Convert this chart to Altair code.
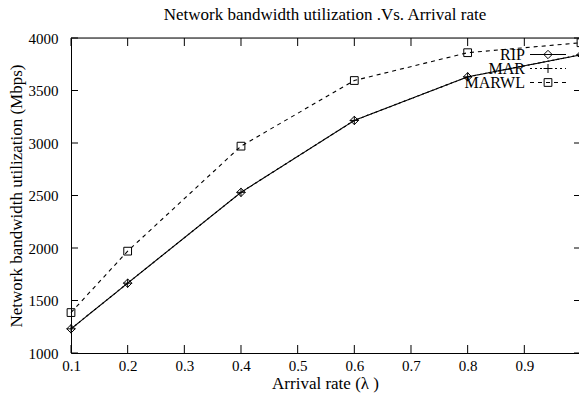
import altair as alt
import pandas as pd

# Arrival rate (lambda) and bandwidth utilization (Mbps) per scheme
arrival_rate = [0.1, 0.2, 0.4, 0.6, 0.8, 1.0]
rip = [1230, 1665, 2530, 3215, 3630, 3840]
mar = [1230, 1665, 2530, 3215, 3630, 3840]
marwl = [1385, 1970, 2970, 3595, 3860, 3955]
series_names = ["RIP", "MAR", "MARWL"]

x_ticks = [0.1, 0.2, 0.3, 0.4, 0.5, 0.6, 0.7, 0.8, 0.9, 1.0]
y_ticks = [1000, 1500, 2000, 2500, 3000, 3500, 4000]

FONT = "Liberation Serif"
W, H = 508, 315

rows = []
for name, vals in zip(series_names, [rip, mar, marwl]):
    for r, v in zip(arrival_rate, vals):
        rows.append({"series": name, "rate": r, "bw": v})
df = pd.DataFrame(rows)

xs = alt.Scale(domain=[0.1, 0.9965], nice=False, zero=False)
ys = alt.Scale(domain=[1000, 4000], nice=False, zero=False)

styles = {
    "RIP": {"dash": [1, 0], "shape": "diamond", "size": 70},
    "MAR": {"dash": [2, 3], "shape": "M-1,0L1,0M0,-1L0,1", "size": 80},
    "MARWL": {"dash": [4, 4], "shape": "square", "size": 60},
}

x_axis = alt.Axis(
    values=x_ticks, format=".1f", ticks=False, grid=False, labelFlush=False,
    labelPadding=5, title="Arrival rate  (λ )", titlePadding=2,
)
y_axis = alt.Axis(
    values=y_ticks, format="d", ticks=False, grid=False, labelFlush=False,
    labelPadding=13, title="Network bandwidth utilization (Mbps)", titlePadding=3,
)


def enc_x(field):
    return alt.X(field, scale=xs, axis=x_axis)


def enc_y(field):
    return alt.Y(field, scale=ys, axis=y_axis)


layers = []
for name in series_names:
    st = styles[name]
    base = alt.Chart(df).transform_filter(alt.datum.series == name)
    layers.append(base.mark_line(color="black", strokeWidth=1.1, strokeDash=st["dash"],
                                 clip=False).encode(x=enc_x("rate:Q"), y=enc_y("bw:Q")))

for name in series_names:
    st = styles[name]
    base = alt.Chart(df).transform_filter(alt.datum.series == name)
    layers.append(base.mark_point(
        shape=st["shape"], size=st["size"], color="black", filled=False,
        strokeWidth=1, opacity=1, clip=False,
    ).encode(x=enc_x("rate:Q"), y=enc_y("bw:Q")))

# inward tick marks on all four sides
xt = alt.Chart(pd.DataFrame({"t": x_ticks}))
yt = alt.Chart(pd.DataFrame({"t": y_ticks}))
layers.append(xt.mark_rule(color="black", strokeWidth=1).encode(
    x=enc_x("t:Q"), y=alt.value(H - 8), y2=alt.value(H)))
layers.append(xt.mark_rule(color="black", strokeWidth=1).encode(
    x=enc_x("t:Q"), y=alt.value(0), y2=alt.value(8)))
layers.append(yt.mark_rule(color="black", strokeWidth=1).encode(
    y=enc_y("t:Q"), x=alt.value(0), x2=alt.value(7)))
layers.append(yt.mark_rule(color="black", strokeWidth=1).encode(
    y=enc_y("t:Q"), x=alt.value(W - 5), x2=alt.value(W)))

one = alt.Chart(pd.DataFrame({"a": [0]}))
# top border
layers.append(one.mark_rule(color="black", strokeWidth=1).encode(
    x=alt.value(0), x2=alt.value(W + 5), y=alt.value(0)))

# key in the upper right corner
key_rows = [16.5, 30.5, 44.5]
for name, ry in zip(series_names, key_rows):
    st = styles[name]
    layers.append(one.mark_text(align="right", baseline="middle", font=FONT, fontSize=16,
                                color="black").encode(
        x=alt.value(454), y=alt.value(ry), text=alt.value(name)))
    layers.append(one.mark_rule(color="black", strokeWidth=1.1, strokeDash=st["dash"]).encode(
        x=alt.value(459), x2=alt.value(495), y=alt.value(ry)))
    layers.append(one.mark_point(shape=st["shape"], size=st["size"], color="black",
                                 filled=False, strokeWidth=1, opacity=1).encode(
        x=alt.value(477), y=alt.value(ry)))

chart = alt.layer(*layers).properties(
    width=W, height=H,
    title=alt.TitleParams("Network bandwidth utilization .Vs. Arrival rate", font=FONT,
                          fontSize=17, fontWeight="normal", color="black", offset=7),
    autosize=alt.AutoSizeParams(type="none"),
    padding={"left": 71, "top": 38, "right": 0, "bottom": 48},
).configure_view(stroke=None).configure(background="white").configure_axis(
    labelFont=FONT, labelFontSize=15, labelColor="black",
    titleFont=FONT, titleFontSize=17, titleFontWeight="normal", titleColor="black",
    domainColor="black", domainWidth=1,
)

chart.save("out.html", embed_options={"renderer": "svg", "actions": False})
